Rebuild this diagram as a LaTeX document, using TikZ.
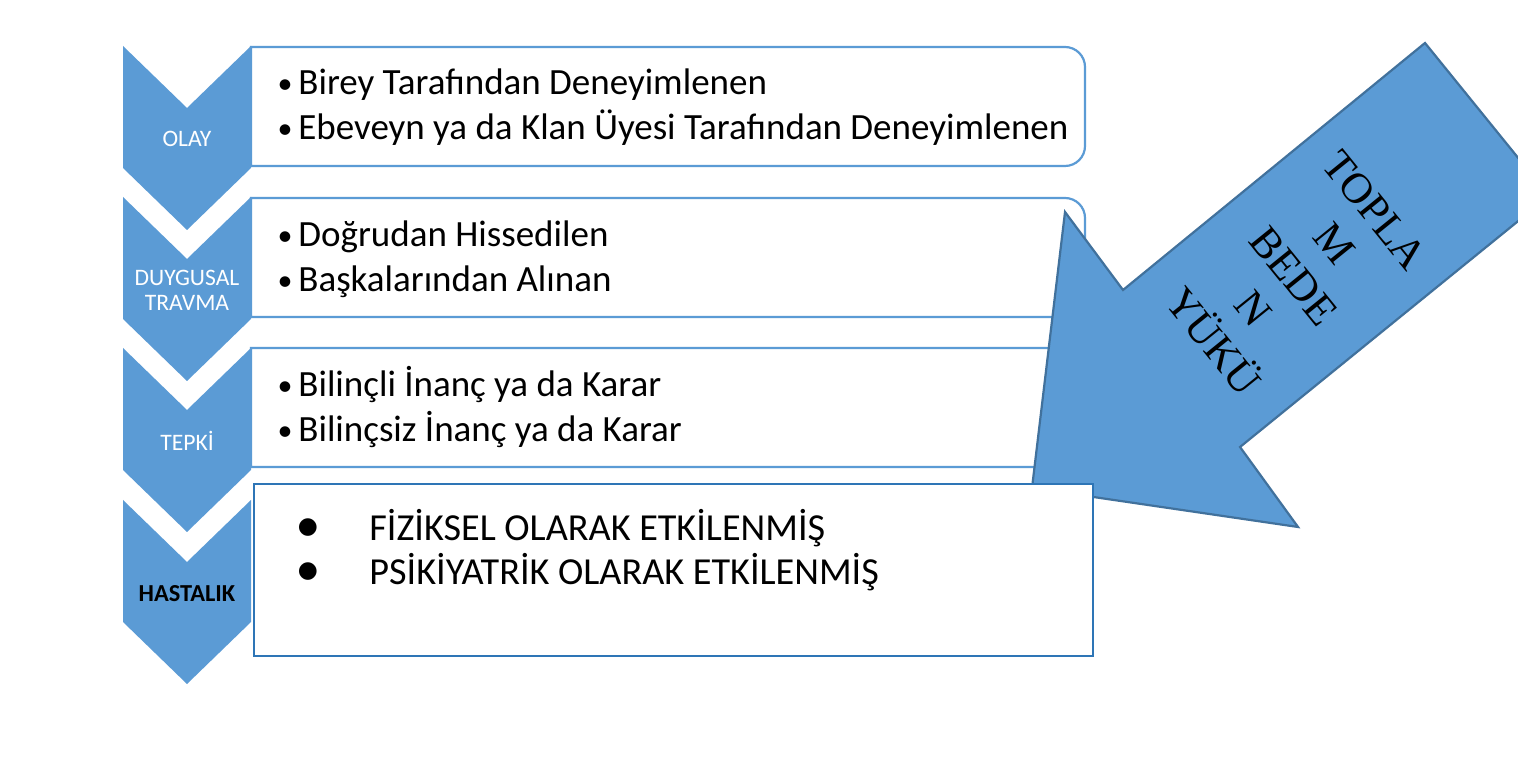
\documentclass[tikz,border=0pt]{standalone}
\usepackage{fontspec}
\setmainfont{Carlito}
\newfontfamily\arrowfont{Liberation Serif}
\newfontfamily\symfont{DejaVu Sans}
\definecolor{chev}{HTML}{5B9BD5}
\definecolor{boxline}{HTML}{5B9BD5}
\definecolor{darkline}{HTML}{2E75B6}
\definecolor{arrowline}{HTML}{41719C}
\begin{document}
\begin{tikzpicture}[x=0.5pt,y=-0.5pt,
  chevron/.style={fill=chev,draw=none},
  listbox/.style={draw=boxline,line width=1.1pt,fill=white},
  finalbox/.style={draw=darkline,line width=1.3pt,fill=white},
  bigarrow/.style={fill=chev,draw=arrowline,line width=1.1pt,line join=miter},
  chevlabel/.style={text=white,font=\fontsize{11.8}{12.5}\selectfont,align=center,inner sep=0pt},
  itemtext/.style={anchor=base west,font=\fontsize{18.5}{22}\selectfont,inner sep=0pt},
  finaltext/.style={anchor=base west,font=\fontsize{19.1}{22}\selectfont,inner sep=0pt},
  itembullet/.style={anchor=base,font=\fontsize{15}{18}\selectfont,inner sep=0pt},
  bigbullet/.style={anchor=center,font=\symfont\fontsize{11.5}{14}\selectfont,inner sep=0pt},
  arrowtext/.style={font=\arrowfont\fontsize{21.5}{26}\selectfont,align=center,rotate=-51,inner sep=0pt}]
\fill[white] (0,0) rectangle (1518,763);
\useasboundingbox (0,0) rectangle (1518,763);
\clip (0,0) rectangle (1518,763);
% list boxes with rounded right corners
\foreach \t in {47,198,348}{
  \draw[listbox] (251,\t) -- (1065,\t) .. controls (1076,\t) and (1085,\t+9) .. (1085,\t+20)
    -- (1085,\t+99) .. controls (1085,\t+110) and (1076,\t+119) .. (1065,\t+119) -- (251,\t+119) -- cycle;
}
% chevrons
\foreach \t in {46,197,348,500}{
  \fill[chevron] (123,\t) -- (187,\t+62) -- (251,\t) -- (251,\t+122) -- (187,\t+184) -- (123,\t+122) -- cycle;
}
\node[chevlabel] (olay) at (187,139) {OLAY};
\node[chevlabel] (duygusal) at (187,290) {DUYGUSAL\\TRAVMA};
\node[chevlabel] (tepki) at (187,441) {TEPKİ};
\node[chevlabel,text=black,font=\bfseries\fontsize{12.2}{12.5}\selectfont] (hastalik) at (187,594) {HASTALIK};
% items
\node[itembullet] (b11) at (285,94) {•};
\node[itemtext] (t11) at (298,95) {Birey Tarafından Deneyimlenen};
\node[itembullet] (b12) at (285,139) {•};
\node[itemtext] (t12) at (298,140) {Ebeveyn ya da Klan Üyesi Tarafından Deneyimlenen};
\node[itembullet] (b21) at (285,246) {•};
\node[itemtext] (t21) at (298,247) {Doğrudan Hissedilen};
\node[itembullet] (b22) at (285,291) {•};
\node[itemtext] (t22) at (298,292) {Başkalarından Alınan};
\node[itembullet] (b31) at (285,396) {•};
\node[itemtext] (t31) at (298,397) {Bilinçli İnanç ya da Karar};
\node[itembullet] (b32) at (285,441) {•};
\node[itemtext] (t32) at (298,442) {Bilinçsiz İnanç ya da Karar};
% big arrow
\draw[bigarrow] (1425,43) -- (1549,196) -- (1240,447) -- (1298,527) -- (1032,488) -- (1065,212) -- (1123,290) -- cycle;
\node[arrowtext] (yuk) at (1294,276) {TOPLA\\M\\BEDE\\N\\YÜKÜ};
% final box
\draw[finalbox] (254,484) rectangle (1093,656);
\node[bigbullet] (b41) at (308,528) {●};
\node[finaltext] (t41) at (369,540) {FİZİKSEL OLARAK ETKİLENMİŞ};
\node[bigbullet] (b42) at (308,572) {●};
\node[finaltext] (t42) at (369,584) {PSİKİYATRİK OLARAK ETKİLENMİŞ};
\end{tikzpicture}
\end{document}
